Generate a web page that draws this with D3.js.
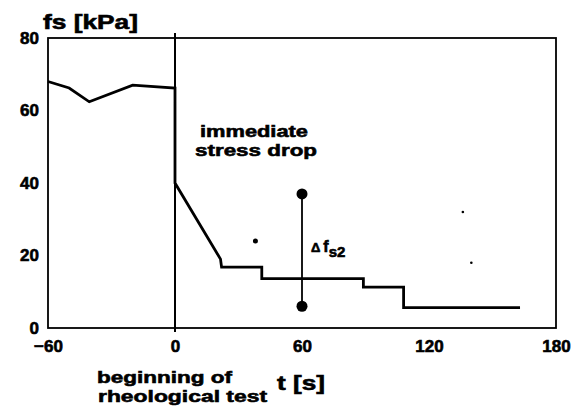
<!DOCTYPE html>
<html lang="en">
<head>
  <title>Stress drop</title>
  <meta charset="utf-8">
  <style>
    body { margin: 0; background: #fff; }
    text { font-family: "Liberation Sans", Arial, sans-serif; font-weight: bold; fill: #000; stroke: #000; stroke-width: 0.6; }
  </style>
  <script src="https://d3js.org/d3.v7.min.js"></script>
</head>
<body>
<svg width="581" height="412"></svg>
<script>
  // data
  var stressT = [-60, -50, -40.5, -20, 0, 0, 21.5, 22, 41, 41, 89, 89, 108, 108, 163];
  var stressV = [68, 66.2, 62.4, 67, 66.2, 40, 19, 16.8, 16.8, 13.6, 13.6, 11.3, 11.3, 5.6, 5.6];
  var dropT = 60, dropTop = 37, dropBottom = 6;
  var speckT = [38, 136, 140], speckV = [24, 32, 18];
  var xTicks = [-60, 0, 60, 120, 180];
  var yTicks = [0, 20, 40, 60, 80];

  var svg = d3.select("svg");
  var x = d3.scaleLinear().domain([-60, 180]).range([48, 556]);
  var y = d3.scaleLinear().domain([0, 80]).range([328, 38]);

  // frame
  svg.append("rect")
    .attr("x", x(-60)).attr("y", y(80))
    .attr("width", x(180) - x(-60)).attr("height", y(0) - y(80))
    .attr("fill", "none").attr("stroke", "#000").attr("stroke-width", 1.8);

  // start of the rheological test
  svg.append("line")
    .attr("x1", x(0)).attr("x2", x(0))
    .attr("y1", y(80) - 5).attr("y2", y(0) + 4)
    .attr("stroke", "#000").attr("stroke-width", 2);

  var yAxis = svg.append("g")
    .attr("transform", "translate(" + x(-60) + ",0)")
    .call(d3.axisLeft(y).tickValues(yTicks).tickSize(0).tickPadding(9).tickFormat(d3.format("d")));
  var xAxis = svg.append("g")
    .attr("transform", "translate(0," + y(0) + ")")
    .call(d3.axisBottom(x).tickValues(xTicks).tickSize(0).tickPadding(12).tickFormat(d3.format("d")));
  yAxis.select(".domain").remove();
  xAxis.select(".domain").remove();
  svg.selectAll(".tick text")
    .attr("font-family", null).style("font-size", "17px");

  var pts = stressT.map(function(t, i) { return [t, stressV[i]]; });
  var line = d3.line()
    .x(function(d) { return x(d[0]); })
    .y(function(d) { return y(d[1]); });
  svg.append("path")
    .datum(pts)
    .attr("d", line)
    .attr("fill", "none").attr("stroke", "#000")
    .attr("stroke-width", 2.8).attr("stroke-linejoin", "miter");

  // delta fs2 marker
  svg.append("line")
    .attr("x1", x(dropT)).attr("x2", x(dropT))
    .attr("y1", y(dropTop)).attr("y2", y(dropBottom))
    .attr("stroke", "#000").attr("stroke-width", 1.8);
  svg.selectAll(".dot")
    .data([dropTop, dropBottom])
    .enter().append("circle")
    .attr("class", "dot")
    .attr("cx", x(dropT)).attr("cy", function(d) { return y(d); })
    .attr("r", 5.5).attr("fill", "#000");

  // scan specks
  svg.selectAll(".speck")
    .data(speckT)
    .enter().append("circle")
    .attr("class", "speck")
    .attr("cx", function(d) { return x(d); })
    .attr("cy", function(d, i) { return y(speckV[i]); })
    .attr("r", function(d, i) { return i == 0 ? 2.5 : 1.3; })
    .attr("fill", "#000");

  // labels
  function label(str, px, py, size, len) {
    svg.append("text").attr("x", px).attr("y", py)
      .attr("font-size", size)
      .attr("textLength", len).attr("lengthAdjust", "spacingAndGlyphs")
      .text(str);
  }
  label("fs  [kPa]", 43, 29, 20, 95);
  label("immediate", 200, 137, 17, 108);
  label("stress drop", 195, 156, 17, 122);
  label("beginning of", 97, 383, 17, 135);
  label("rheological test", 98, 402, 17, 169);
  label("t  [s]", 277, 390, 20, 48);

  var d = svg.append("text").attr("x", 311).attr("y", 252).attr("font-size", 13);
  d.append("tspan").text("\u0394");
  d.append("tspan").attr("dx", 3).attr("font-size", 16).text("f");
  d.append("tspan").attr("dy", 5).attr("font-size", 15).text("s2");
</script>
</body>
</html>
